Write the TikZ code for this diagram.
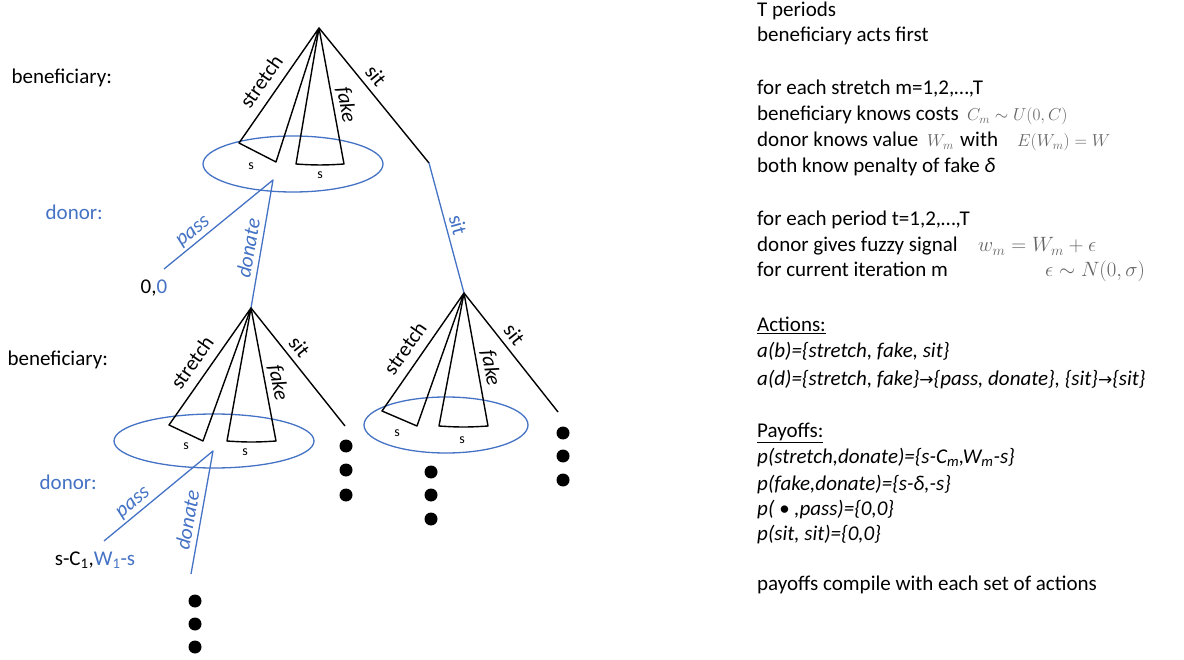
\documentclass[tikz,border=0pt]{standalone}
\usepackage{fontspec}
\setmainfont{Carlito}
\newfontfamily\dejavu{DejaVu Sans}
\definecolor{myblue}{RGB}{68,114,196}
\definecolor{mathgray}{RGB}{100,100,100}
\tikzset{
  bl/.style={line width=1.4pt, black, line join=round},
  bu/.style={line width=1.3pt, myblue, line join=round},
  ell/.style={line width=1.3pt, myblue},
  lab/.style={font=\fontsize{21}{25}\selectfont, inner sep=1.5pt},
  slab/.style={font=\fontsize{14}{16}\selectfont, inner sep=1pt},
  rt/.style={font=\fontsize{21}{25}\selectfont, anchor=base west, inner sep=0pt},
  mth/.style={anchor=base west, inner sep=0pt, text=mathgray},
  dotn/.style={circle, fill=black, inner sep=0pt, minimum size=13pt},
  stlab/.style={lab, pos=0.45, sloped, above=8pt},
  fklab/.style={lab, pos=0.58, sloped, above=2.5pt},
  silab/.style={lab, pos=0.42, sloped, above=5pt},
}
\newcommand{\rarr}{{\dejavu\fontsize{17}{20}\selectfont →}}
\begin{document}
\begin{tikzpicture}[x=1pt,y=-1pt]
\useasboundingbox (0,0) rectangle (1184,660);

% ---------- top tree ----------
\coordinate (A) at (319,28);
\coordinate (A1) at (239,143);
\coordinate (A2) at (276,162);
\coordinate (A3) at (296,164);
\coordinate (A4) at (344,164);
\coordinate (A5) at (429,163);
\draw[ell] (293,164) ellipse [x radius=90pt, y radius=28pt];
\draw[bl] (A) -- (A1) -- (A2) -- cycle;
\draw[bl] (A) -- (A3) to[bend right=4] (A4) -- cycle;
\draw[bl] (A) -- (A5);
\path (A1) -- node[stlab] (tstretch) {stretch} (A);
\path (A) -- node[fklab] (tfake) {\itshape fake} (A4);
\path (A) -- node[silab] (tsit) {sit} (A5);
\node[slab] (ts1) at (251,166) {s};
\node[slab] (ts2) at (320,175) {s};

% top donor
\coordinate (D1) at (273,180);
\coordinate (P1) at (164,269);
\coordinate (B) at (251,308);
\draw[bu] (P1) -- (D1) -- (B);
\path (P1) -- node[lab, text=myblue, pos=0.33, sloped, above=1pt] (tpass) {\itshape pass} (D1);
\path (B) -- node[lab, text=myblue, pos=0.45, sloped, above=4pt] (tdon) {\itshape donate} (D1);
\node[lab, inner sep=0pt] (z00) at (154,288) {0,\textcolor{myblue}{0}};

% sit -> right tree
\coordinate (C) at (464,293);
\draw[bu] (A5) -- (C);
\path (A5) -- node[lab, text=myblue, pos=0.5, sloped, above=3pt] (tbsit) {sit} (C);

% ---------- lower left tree ----------
\coordinate (B1) at (169,425);
\coordinate (B2) at (203,441);
\coordinate (B3) at (227,441);
\coordinate (B4) at (276,441);
\coordinate (B5) at (345,426);
\draw[ell] (214,441) ellipse [x radius=100pt, y radius=27pt];
\draw[bl] (B) -- (B1) -- (B2) -- cycle;
\draw[bl] (B) -- (B3) to[bend right=4] (B4) -- cycle;
\draw[bl] (B) -- (B5);
\path (B1) -- node[stlab] (bstretch) {stretch} (B);
\path (B) -- node[fklab] (bfake) {\itshape fake} (B4);
\path (B) -- node[silab, pos=0.4] (bsit) {sit} (B5);
\node[slab] (bs1) at (186,446) {s};
\node[slab] (bs2) at (245,452) {s};

% lower donor
\coordinate (D2) at (213,451);
\coordinate (P2) at (104,541);
\coordinate (E2) at (191,574);
\draw[bu] (P2) -- (D2) -- (E2);
\path (P2) -- node[lab, text=myblue, pos=0.33, sloped, above=1pt] (bpass) {\itshape pass} (D2);
\path (E2) -- node[lab, text=myblue, pos=0.42, sloped, above=4pt] (bdon) {\itshape donate} (D2);
\node[lab, inner sep=0pt] (pay1) at (95,560) {s-C\textsubscript{1},\textcolor{myblue}{W\textsubscript{1}-s}};
\node[dotn] (d1a) at (195,601) {};
\node[dotn] (d1b) at (195,624) {};
\node[dotn] (d1c) at (195,647) {};

\node[dotn] (d2a) at (346,446) {};
\node[dotn] (d2b) at (346,470) {};
\node[dotn] (d2c) at (346,495) {};

% ---------- right tree ----------
\coordinate (C1) at (382,411);
\coordinate (C2) at (417,426);
\coordinate (C3) at (439,426);
\coordinate (C4) at (488,426);
\coordinate (C5) at (558,412);
\draw[ell] (446,425) ellipse [x radius=82pt, y radius=28pt];
\draw[bl] (C) -- (C1) -- (C2) -- cycle;
\draw[bl] (C) -- (C3) to[bend right=4] (C4) -- cycle;
\draw[bl] (C) -- (C5);
\path (C1) -- node[stlab] (cstretch) {stretch} (C);
\path (C) -- node[fklab] (cfake) {\itshape fake} (C4);
\path (C) -- node[silab] (csit) {sit} (C5);
\node[slab] (cs1) at (397,433) {s};
\node[slab] (cs2) at (462,440) {s};

\node[dotn] (d3a) at (431,472) {};
\node[dotn] (d3b) at (431,495) {};
\node[dotn] (d3c) at (431,519) {};

\node[dotn] (d4a) at (563,433) {};
\node[dotn] (d4b) at (563,456) {};
\node[dotn] (d4c) at (563,480) {};

% ---------- player labels ----------
\node[lab, anchor=west] (ben1) at (10,78) {beneficiary:};
\node[lab, anchor=west, text=myblue] (don1) at (44,212) {donor:};
\node[lab, anchor=west] (ben2) at (6,360) {beneficiary:};
\node[lab, anchor=west, text=myblue] (don2) at (38,482) {donor:};

% ---------- right text ----------
\node[rt] (r1) at (757,17) {T periods};
\node[rt] (r2) at (757,42) {beneficiary acts first};
\node[rt] (r3) at (757,95) {for each stretch m=1,2,…,T};
\node[rt] (r4) at (757,121) {beneficiary knows costs};
\node[mth] (m1) at (967,121) {\fontsize{18}{20}\selectfont $C_m\sim U(0,C)$};
\node[rt] (r5) at (757,147) {donor knows value};
\node[mth] (m2) at (927,147) {\fontsize{18}{20}\selectfont $W_m$};
\node[rt] (r5b) at (960,147) {with};
\node[mth] (m3) at (1017,147) {\fontsize{18}{20}\selectfont $E(W_m)=W$};
\node[rt] (r6) at (757,173) {both know penalty of fake \textit{δ}};
\node[rt] (r7) at (757,226) {for each period t=1,2,…,T};
\node[rt] (r8) at (757,252) {donor gives fuzzy signal};
\node[mth] (m4) at (978,252) {\fontsize{20}{24}\selectfont $w_m=W_m+\epsilon$};
\node[rt] (r9) at (757,277) {for current iteration m};
\node[mth] (m5) at (1045,277) {\fontsize{20.5}{24}\selectfont $\epsilon\sim N(0,\sigma)$};
\node[rt] (r10) at (757,332) {\underline{Actions:}};
\node[rt] (r11) at (757,358) {\itshape a(b)=\{stretch, fake, sit\}};
\node[rt] (r12) at (757,385) {\itshape a(d)=\{stretch, fake\}\rarr\{pass, donate\}, \{sit\}\rarr\{sit\}};
\node[rt] (r13) at (757,437) {\underline{Payoffs:}};
\node[rt] (r14) at (757,463) {\itshape p(stretch,donate)=\{s-C\textsubscript{m},W\textsubscript{m}-s\}};
\node[rt] (r15) at (757,490) {\itshape p(fake,donate)=\{s-δ,-s\}};
\node[rt] (r16) at (757,515) {\itshape p( • ,pass)=\{0,0\}};
\node[rt] (r17) at (757,540) {\itshape p(sit, sit)=\{0,0\}};
\node[rt] (r18) at (757,590) {payoffs compile with each set of actions};
\end{tikzpicture}
\end{document}
